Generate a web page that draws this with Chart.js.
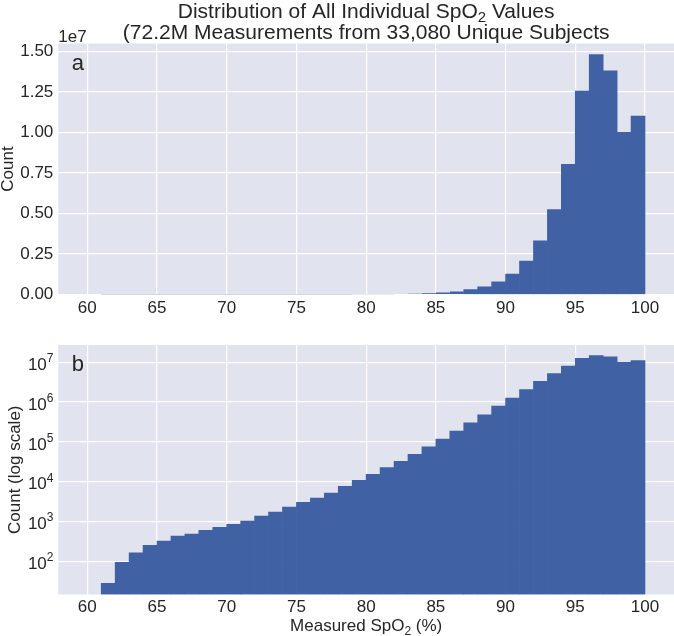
<!DOCTYPE html>
<html>
<head>
<meta charset="utf-8">
<script src="https://cdn.jsdelivr.net/npm/chart.js@4.4.1/dist/chart.umd.min.js"></script>
<style>
  html, body { margin: 0; padding: 0; background: #ffffff; }
  #wrap { position: relative; width: 674px; height: 636px; overflow: hidden; }
  canvas { position: absolute; left: 0; }
  #c1 { top: 0; }
  #c2 { top: 320px; }
</style>
</head>
<body>
<div id="wrap">
  <canvas id="c1" width="674" height="320"></canvas>
  <canvas id="c2" width="674" height="316"></canvas>
</div>
<script>
// ---------------- data ----------------
const binStarts = [61, 62, 63, 64, 65, 66, 67, 68, 69, 70,
                   71, 72, 73, 74, 75, 76, 77, 78, 79, 80,
                   81, 82, 83, 84, 85, 86, 87, 88, 89, 90,
                   91, 92, 93, 94, 95, 96, 97, 98, 99];
const counts = [28, 94, 164, 253, 324, 432, 486, 601, 715, 851,
                1030, 1375, 1733, 2313, 3040, 3890, 5200, 7650, 10840, 15350,
                22500, 32600, 48800, 75700, 117000, 186000, 300000, 476000, 789000, 1260000,
                2060000, 3310000, 5240000, 8030000, 12550000, 14800000, 13800000, 10000000, 11000000];
const xTickValues = [60, 65, 70, 75, 80, 85, 90, 95, 100];
const linTickValues = [0, 2500000, 5000000, 7500000, 10000000, 12500000, 15000000];
const linTickLabels = ['0.00', '0.25', '0.50', '0.75', '1.00', '1.25', '1.50'];
const logTickValues = [1e2, 1e3, 1e4, 1e5, 1e6, 1e7];
const titleLine1 = ['Distribution of All Individual SpO', '2', ' Values'];
const titleLine2 = '(72.2M Measurements from 33,080 Unique Subjects';
const xLabel = ['Measured SpO', '2', ' (%)'];
const yLabelTop = 'Count';
const yLabelBottom = 'Count (log scale)';
const offsetLabel = '1e7';

// ---------------- style ----------------
const FONT = "'Liberation Sans', Arial, Helvetica, sans-serif";
const TEXT = '#262626';
const BG = '#E1E3EE';
const BAR = 'rgb(65, 97, 165)';
const GRID = '#ffffff';

Chart.defaults.font.family = FONT;
Chart.defaults.color = TEXT;

const points = binStarts.map((b, i) => ({ x: b + 0.5, y: counts[i] }));

function drawParts(ctx, parts, x, y, align) {
  const ws = parts.map(p => { ctx.font = p.size + 'px ' + FONT; return ctx.measureText(p.t).width; });
  const total = ws.reduce((a, b) => a + b, 0);
  let sx = align === 'center' ? x - total / 2 : (align === 'right' ? x - total : x);
  ctx.textAlign = 'left';
  ctx.textBaseline = 'alphabetic';
  parts.forEach((p, i) => {
    ctx.font = p.size + 'px ' + FONT;
    ctx.fillText(p.t, sx, y + (p.dy || 0));
    sx += ws[i];
  });
}

function rotatedText(ctx, text, x, y, size) {
  ctx.save();
  ctx.translate(x, y);
  ctx.rotate(-Math.PI / 2);
  ctx.font = size + 'px ' + FONT;
  ctx.textAlign = 'center';
  ctx.textBaseline = 'middle';
  ctx.fillText(text, 0, 0);
  ctx.restore();
}

const bgPlugin = {
  id: 'bg',
  beforeDraw(chart) {
    const { ctx, chartArea: a } = chart;
    ctx.save();
    ctx.fillStyle = BG;
    ctx.fillRect(a.left, a.top, a.right - a.left, a.bottom - a.top);
    ctx.restore();
  }
};

const topText = {
  id: 'topText',
  afterDraw(chart) {
    const { ctx, chartArea: a } = chart;
    ctx.save();
    ctx.fillStyle = TEXT;
    const cx = (a.left + a.right) / 2;
    drawParts(ctx, [
      { t: titleLine1[0], size: 21 },
      { t: titleLine1[1], size: 15, dy: 4 },
      { t: titleLine1[2], size: 21 }
    ], cx, 17.5, 'center');
    drawParts(ctx, [{ t: titleLine2, size: 21 }], cx, 39, 'center');
    drawParts(ctx, [{ t: offsetLabel, size: 17 }], a.left, a.top - 2, 'left');
    drawParts(ctx, [{ t: 'a', size: 22 }], a.left + 13.4, a.top + 26.5, 'left');
    rotatedText(ctx, yLabelTop, 8, (a.top + a.bottom) / 2, 17);
    ctx.restore();
  }
};

const bottomText = {
  id: 'bottomText',
  afterDraw(chart) {
    const { ctx, chartArea: a } = chart;
    const ys = chart.scales.y;
    ctx.save();
    ctx.fillStyle = TEXT;
    logTickValues.forEach(v => {
      const py = ys.getPixelForValue(v);
      const e = String(Math.round(Math.log10(v)));
      ctx.font = '12px ' + FONT;
      const ew = ctx.measureText(e).width;
      ctx.textAlign = 'right';
      ctx.textBaseline = 'middle';
      ctx.fillText(e, 53.5, py - 3.5);
      ctx.font = '17px ' + FONT;
      ctx.fillText('10', 53.5 - ew, py + 3);
    });
    drawParts(ctx, [{ t: 'b', size: 22 }], a.left + 13.4, a.top + 25.5, 'left');
    rotatedText(ctx, yLabelBottom, 15, (a.top + a.bottom) / 2, 17);
    drawParts(ctx, [
      { t: xLabel[0], size: 17 },
      { t: xLabel[1], size: 12, dy: 3.5 },
      { t: xLabel[2], size: 17 }
    ], (a.left + a.right) / 2, 311, 'center');
    ctx.restore();
  }
};

function xScale(height, pad) {
  return {
    type: 'linear',
    offset: false,
    min: 57.92,
    max: 102.08,
    grid: { color: GRID, lineWidth: 1.2, drawTicks: false, offset: false },
    border: { display: false },
    ticks: { padding: pad, color: TEXT, font: { size: 17 }, autoSkip: false, maxRotation: 0 },
    afterBuildTicks: s => { s.ticks = xTickValues.map(v => ({ value: v })); },
    afterFit: s => { s.height = height; }
  };
}

function dataset(inflate) {
  return {
    data: points,
    backgroundColor: BAR,
    borderWidth: 0,
    barPercentage: 1,
    categoryPercentage: 1,
    inflateAmount: inflate
  };
}

const common = {
  responsive: false,
  animation: false,
  devicePixelRatio: 1,
  plugins: { legend: { display: false }, tooltip: { enabled: false } }
};

// top panel: only inflate bars tall enough to show seams, so tiny bars stay faint
const topInflate = (c) => (c.raw && c.raw.y > 200000 ? 0.33 : 0);

new Chart(document.getElementById('c1'), {
  type: 'bar',
  data: { datasets: [dataset(topInflate)] },
  plugins: [bgPlugin, topText],
  options: Object.assign({}, common, {
    layout: { padding: { top: 43.5, left: 0, right: 0, bottom: 0 }, autoPadding: false },
    scales: {
      x: xScale(25.5, 4),
      y: {
        type: 'linear',
        min: 0,
        max: 15480000,
        grid: { color: GRID, lineWidth: 1.2, drawTicks: false },
        border: { display: false },
        ticks: {
          padding: 5, color: TEXT, font: { size: 17 },
          callback: (v, i) => linTickLabels[i]
        },
        afterBuildTicks: s => { s.ticks = linTickValues.map(v => ({ value: v })); },
        afterFit: s => { s.width = 58.3; }
      }
    }
  })
});

new Chart(document.getElementById('c2'), {
  type: 'bar',
  data: { datasets: [dataset('auto')] },
  plugins: [bgPlugin, bottomText],
  options: Object.assign({}, common, {
    layout: { padding: { top: 25, left: 0, right: 0, bottom: 0 }, autoPadding: false },
    scales: {
      x: xScale(41.5, 3),
      y: {
        type: 'logarithmic',
        min: 14.66,
        max: 27200000,
        grid: { color: GRID, lineWidth: 1.2, drawTicks: false },
        border: { display: false },
        ticks: { display: false },
        afterBuildTicks: s => { s.ticks = logTickValues.map(v => ({ value: v, major: true })); },
        afterFit: s => { s.width = 58.3; }
      }
    }
  })
});
</script>
</body>
</html>
